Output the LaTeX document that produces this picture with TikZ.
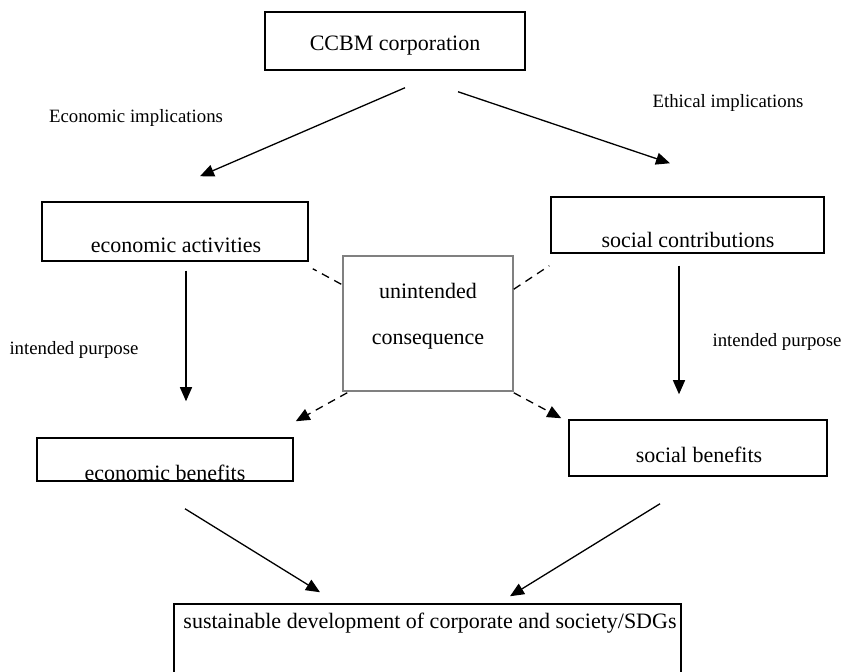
\documentclass[tikz,border=0pt]{standalone}
\usepackage{fontspec}
\setmainfont{Liberation Serif}
\usetikzlibrary{arrows.meta, fit}

\begin{document}
\begin{tikzpicture}[x=0.5pt, y=-0.5pt,
  box/.style={rectangle, draw, line width=0.75pt, inner sep=0pt},
  greybox/.style={box, draw=black!50},
  boxtext/.style={font=\fontsize{11}{13}\selectfont, inner sep=0pt},
  note/.style={font=\fontsize{9.4}{11}\selectfont, inner sep=0pt},
  arr/.style={-{Triangle[length=7pt, width=6pt]}, line width=0.65pt},
  dashline/.style={line width=0.65pt, dash pattern=on 4pt off 3pt},
  dasharr/.style={arr, dash pattern=on 4pt off 3pt}]
\useasboundingbox (0,0) rectangle (845,672);

% boxes
\node (ccbm) [box, fit={(265,12) (525,70)}] {};
\node (ecoact) [box, fit={(42,202) (308,261)}] {};
\node (soccon) [box, fit={(551,197) (824,253)}] {};
\node (unint) [greybox, fit={(343,256) (513,391)}] {};
\node (ecoben) [box, fit={(37,438) (293,481)}] {};
\node (socben) [box, fit={(569,420) (827,476)}] {};
\node (sdg) [box, fit={(174,604) (681,690)}] {};

% box texts
\node (ccbmtext) [boxtext] at (395,46) {CCBM corporation};
\node (ecoacttext) [boxtext] at (176,245) {economic activities};
\node (soccontext) [boxtext] at (688,240) {social contributions};
\node (uninttext) [boxtext, align=center, font=\fontsize{11}{23}\selectfont] at (428,316) {unintended\\consequence};
\node (ecobentext) [boxtext] at (165,473) {economic benefits};
\node (socbentext) [boxtext] at (699,455) {social benefits};
\node (sdgtext) [boxtext] at (430,623) {sustainable development of corporate and society/SDGs};

% side notes
\node (econimp) [note] at (136,118) {Economic implications};
\node (ethimp) [note] at (728,103) {Ethical implications};
\node (intleft) [note] at (74,350) {intended purpose};
\node (intright) [note] at (777,342) {intended purpose};

% main arrows
\draw [arr] ([shift={(10,17)}]ccbm.south) -- ([shift={(25,-25)}]ecoact.north);
\draw [arr] ([shift={(63,21)}]ccbm.south) -- ([shift={(-17.5,-33)}]soccon.north);
\draw [arr] ([shift={(11,9)}]ecoact.south) -- ([shift={(21,-36)}]ecoben.north);
\draw [arr] ([shift={(-8.5,12)}]soccon.south) -- ([shift={(-19,-25)}]socben.north);
\draw [arr] ([shift={(20,27)}]ecoben.south) -- ([shift={(-107.5,-11)}]sdg.north);
\draw [arr] ([shift={(-38,27)}]socben.south) -- ([shift={(82.5,-7)}]sdg.north);

% unintended consequence links
\draw [dashline] ([shift={(-1,29)}]unint.north west) -- ([shift={(4,7)}]ecoact.south east);
\draw [dashline] ([shift={(0,34)}]unint.north east) -- ([shift={(-1,12)}]soccon.south west);
\draw [dasharr] ([shift={(5,1)}]unint.south west) -- ([shift={(2,-16)}]ecoben.north east);
\draw [dasharr] ([shift={(0,1)}]unint.south east) -- ([shift={(-7,-1)}]socben.north west);
\end{tikzpicture}
\end{document}
